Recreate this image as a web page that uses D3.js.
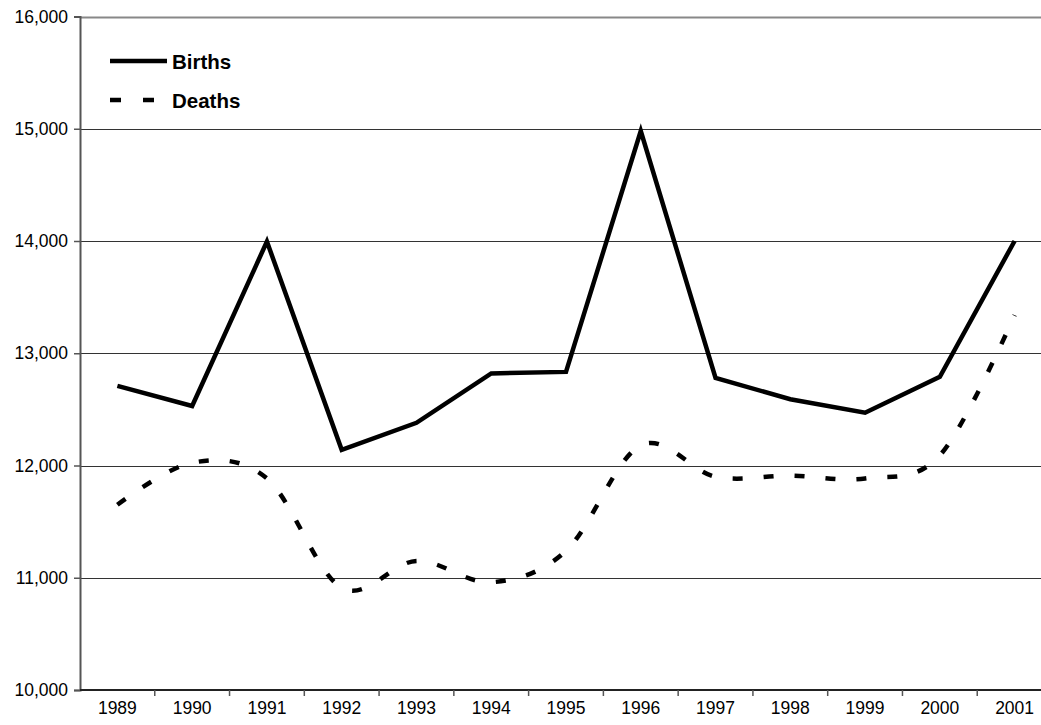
<!DOCTYPE html>
<html>
<head>
<meta charset="utf-8">
<script src="https://cdn.jsdelivr.net/npm/d3@7"></script>
<style>
  body { margin: 0; background: #fff; }
  svg { display: block; font-family: "Liberation Sans", Arial, sans-serif; }
</style>
</head>
<body>
<div id="chart"></div>
<script>
// Births and deaths per year
const years = ["1989", "1990", "1991", "1992", "1993", "1994", "1995", "1996", "1997", "1998", "1999", "2000", "2001"];
const births = [12710, 12530, 13995, 12140, 12380, 12820, 12834, 14980, 12780, 12590, 12470, 12790, 14000];
const deaths = [11650, 12025, 11885, 10910, 11150, 10960, 11240, 12180, 11900, 11910, 11885, 12090, 13340];
const yTicks = [10000, 11000, 12000, 13000, 14000, 15000, 16000];

function drawChart() {
    const width = 1041, height = 725;
    const margin = {top: 16.5, left: 80, right: 1052, bottom: 690};

    const svg = d3.select("#chart").append("svg")
        .attr("width", width)
        .attr("height", height);

    const x = d3.scaleBand()
        .domain(years)
        .range([margin.left, margin.right]);

    const y = d3.scaleLinear()
        .domain([10000, 16000])
        .range([margin.bottom, margin.top]);

    // gridlines
    svg.append("g").selectAll("line")
        .data(yTicks.slice(1))
        .join("line")
        .attr("x1", margin.left)
        .attr("x2", margin.right)
        .attr("y1", d => Math.round(y(d)) + 0.5)
        .attr("y2", d => Math.round(y(d)) + 0.5)
        .attr("stroke", d => d === 16000 ? "#888" : "#333")
        .attr("stroke-width", d => d === 16000 ? 2 : 1);

    // y axis
    const yAxis = svg.append("g")
        .attr("transform", "translate(" + margin.left + ",0)")
        .call(d3.axisLeft(y).tickValues(yTicks).tickFormat(d3.format(",")).tickSize(6).tickPadding(6));
    yAxis.select(".domain").attr("stroke", "#555").attr("stroke-width", 2);
    yAxis.selectAll(".tick line").attr("stroke", "#555").attr("stroke-width", 1.5);
    yAxis.selectAll("text")
        .attr("font-size", "17.5px")
        .attr("fill", "#000")
        .attr("font-family", "Liberation Sans, Arial, sans-serif");

    // x axis, ticks between categories
    const xAxis = svg.append("g")
        .attr("transform", "translate(0," + margin.bottom + ")");
    xAxis.append("line")
        .attr("x1", margin.left).attr("x2", margin.right)
        .attr("stroke", "#222").attr("stroke-width", 2);
    xAxis.selectAll(".xtick")
        .data(years)
        .join("line")
        .attr("class", "xtick")
        .attr("x1", d => x(d) + x.bandwidth())
        .attr("x2", d => x(d) + x.bandwidth())
        .attr("y1", 0).attr("y2", 6)
        .attr("stroke", "#555").attr("stroke-width", 1.5);
    xAxis.selectAll(".xlabel")
        .data(years)
        .join("text")
        .attr("class", "xlabel")
        .attr("x", d => x(d) + x.bandwidth() / 2)
        .attr("y", 24)
        .attr("text-anchor", "middle")
        .attr("font-size", "17.5px")
        .attr("fill", "#000")
        .text(d => d);

    const cx = d => x(d) + x.bandwidth() / 2;

    // births: straight segments
    svg.append("path")
        .datum(years.map((yr, i) => [cx(yr), y(births[i])]))
        .attr("fill", "none")
        .attr("stroke", "#000")
        .attr("stroke-width", 4.5)
        .attr("stroke-linejoin", "miter")
        .attr("d", d3.line());

    // deaths: smoothed dashed line (excel-like smoothing)
    svg.append("path")
        .datum(years.map((yr, i) => [cx(yr), y(deaths[i])]))
        .attr("fill", "none")
        .attr("stroke", "#000")
        .attr("stroke-width", 4.5)
        .attr("stroke-dasharray", "10,21")
        .attr("d", d3.line().curve(d3.curveCardinal.tension(0)));

    // legend
    const legend = svg.append("g");
    legend.append("line")
        .attr("x1", 110).attr("x2", 167)
        .attr("y1", 61).attr("y2", 61)
        .attr("stroke", "#000").attr("stroke-width", 4.5);
    legend.append("text")
        .attr("x", 172).attr("y", 68.5)
        .attr("font-size", "20.5px").attr("font-weight", "bold")
        .text("Births");
    legend.append("line")
        .attr("x1", 110).attr("x2", 167)
        .attr("y1", 100).attr("y2", 100)
        .attr("stroke", "#000").attr("stroke-width", 4.5)
        .attr("stroke-dasharray", "11,22");
    legend.append("text")
        .attr("x", 172).attr("y", 107.5)
        .attr("font-size", "20.5px").attr("font-weight", "bold")
        .text("Deaths");
}
drawChart();
</script>
</body>
</html>
